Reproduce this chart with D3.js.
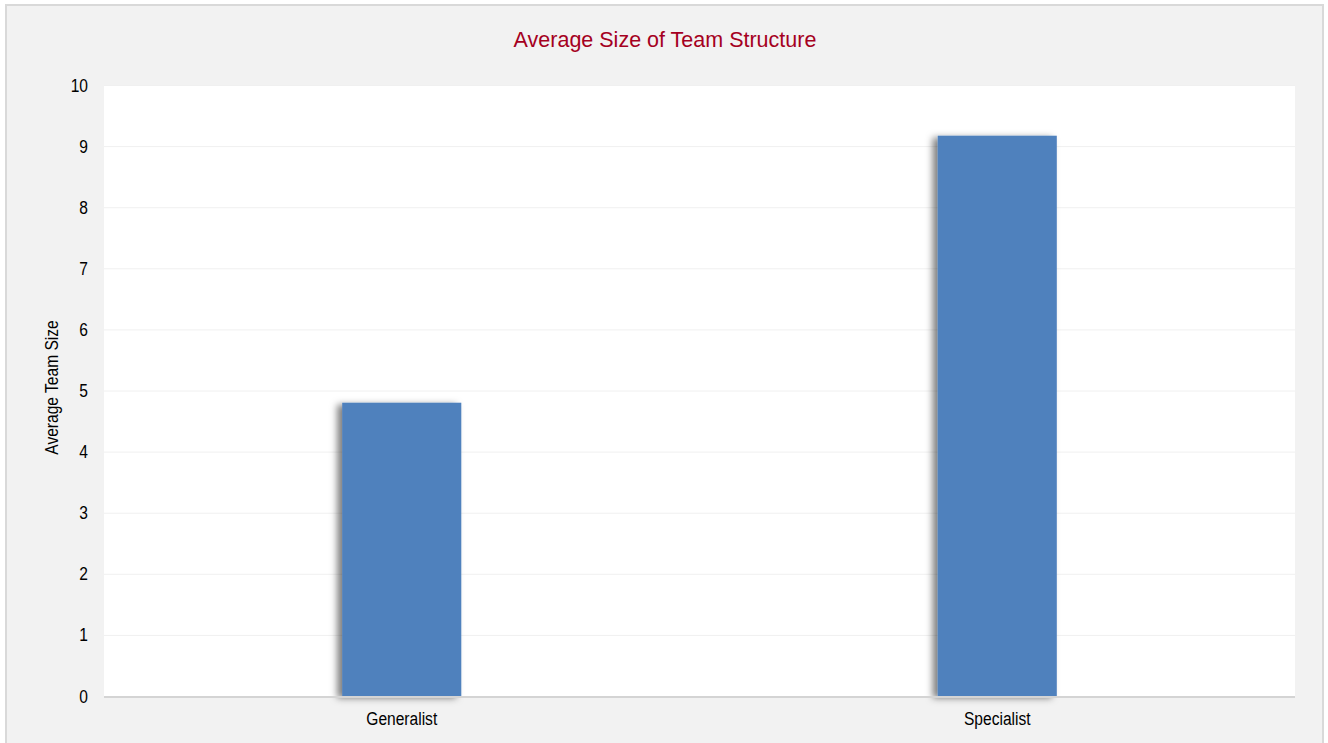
<!DOCTYPE html>
<html>
<head>
  <meta charset="utf-8">
  <script src="https://d3js.org/d3.v7.min.js"></script>
  <style>
    body { margin: 0; background: #ffffff; }
  </style>
</head>
<body>
  <div id="my_dataviz"></div>
  <script>
    // data
    var categories = ["Generalist", "Specialist"];
    var teamSize = [4.8, 9.17];
    var yTicks = [0, 1, 2, 3, 4, 5, 6, 7, 8, 9, 10];

    var W = 1328, H = 743;
    var margin = { top: 85, right: 33, bottom: 47, left: 104 },
      width = W - margin.left - margin.right,
      height = H - margin.top - margin.bottom;

    // no narrow font installed, so squeeze the regular one horizontally
    var axisFont = "'Liberation Sans', Arial, sans-serif";
    var squeeze = 0.82;

    var root = d3.select("#my_dataviz")
      .append("svg")
      .attr("width", W)
      .attr("height", H);

    // bar shadow
    var defs = root.append("defs");
    var f = defs.append("filter")
      .attr("id", "shadow")
      .attr("x", "-30%").attr("y", "-20%")
      .attr("width", "160%").attr("height", "140%");
    f.append("feDropShadow")
      .attr("dx", -5).attr("dy", 2)
      .attr("stdDeviation", 3.5)
      .attr("flood-color", "#000")
      .attr("flood-opacity", 0.5);

    // outer panel
    root.append("rect")
      .attr("x", 6).attr("y", 5)
      .attr("width", 1317).attr("height", 760)
      .attr("fill", "#f2f2f2")
      .attr("stroke", "#d9d9d9")
      .attr("stroke-width", 2);

    // title
    root.append("text")
      .attr("x", 665)
      .attr("y", 47)
      .attr("text-anchor", "middle")
      .style("font-family", "'Liberation Sans', Arial, sans-serif")
      .style("font-size", "21.5px")
      .attr("fill", "#a50021")
      .text("Average Size of Team Structure");

    var svg = root.append("g")
      .attr("transform", "translate(" + margin.left + "," + margin.top + ")");

    // plot area
    svg.append("rect")
      .attr("width", width)
      .attr("height", height)
      .attr("fill", "#ffffff");

    var x = d3.scaleBand()
      .domain(categories)
      .range([0, width])
      .padding(0);

    var y = d3.scaleLinear()
      .domain([0, 10])
      .range([height, 0]);

    // gridlines
    svg.selectAll(".grid")
      .data(yTicks.slice(1))
      .enter()
      .append("line")
      .attr("x1", 0)
      .attr("x2", width)
      .attr("y1", function (d) { return y(d) + 0.5; })
      .attr("y2", function (d) { return y(d) + 0.5; })
      .attr("stroke", "#f0f0f0")
      .attr("stroke-width", 1);

    // bars
    var barW = x.bandwidth() * 0.2;
    svg.selectAll("mybar")
      .data(teamSize)
      .enter()
      .append("rect")
      .attr("x", function (d, i) { return x(categories[i]) + x.bandwidth() / 2 - barW / 2; })
      .attr("y", function (d) { return y(d); })
      .attr("width", barW)
      .attr("height", function (d) { return height - y(d); })
      .attr("fill", "#4f81bd")
      .attr("filter", "url(#shadow)");

    // Y axis
    var yAxis = svg.append("g")
      .call(d3.axisLeft(y).tickValues(yTicks).tickSize(0).tickPadding(16));
    yAxis.select(".domain").remove();
    yAxis.selectAll("text")
      .attr("x", -16 / squeeze)
      .attr("transform", "scale(" + squeeze + ",1)")
      .style("font-family", axisFont)
      .style("font-size", "19px")
      .attr("fill", "#000");

    // X axis
    var xAxis = svg.append("g")
      .attr("transform", "translate(0," + height + ")")
      .call(d3.axisBottom(x).tickSize(0).tickPadding(16));
    xAxis.select(".domain")
      .attr("stroke", "#d4d4d4")
      .attr("stroke-width", 2)
      .attr("d", "M0,1H" + width);
    xAxis.selectAll("text")
      .attr("transform", "scale(" + squeeze + ",1)")
      .style("font-family", axisFont)
      .style("font-size", "19px")
      .attr("fill", "#000");

    // Y label
    svg.append("text")
      .attr("transform", "rotate(-90) scale(" + squeeze + ",1)")
      .attr("x", (-height / 2 + 3) / squeeze)
      .attr("y", -margin.left + 58)
      .style("text-anchor", "middle")
      .style("font-family", axisFont)
      .style("font-size", "19px")
      .text("Average Team Size");
  </script>
</body>
</html>
